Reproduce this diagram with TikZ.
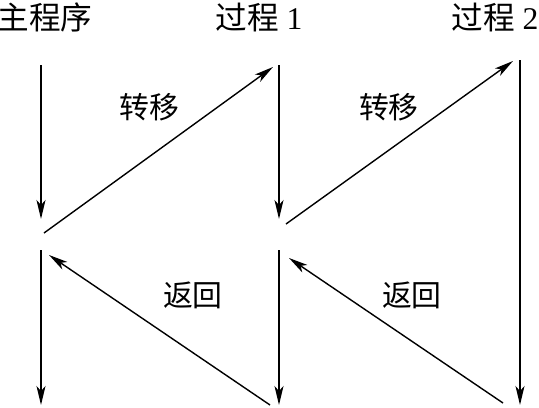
\documentclass[tikz,border=0pt]{standalone}
\usepackage{fontspec}
\setmainfont{Liberation Serif}
\newfontfamily\cjk{Noto Sans CJK SC}
\usetikzlibrary{arrows.meta}

\begin{document}
\begin{tikzpicture}[
    x=0.02cm, y=-0.02cm,
    title/.style={inner sep=0pt, font=\fontsize{18}{21}\selectfont},
    tag/.style={inner sep=0pt, font=\fontsize{17}{20}\selectfont},
    arr/.style={-{Stealth[length=0.38cm, width=0.18cm, inset=0.1cm]}, line width=0.8pt}
  ]
    \useasboundingbox (0,0) rectangle (539,407);

    % column headings
    \node[title] (main)  at (45,17)  {\cjk 主程序};
    \node[title] (proc1) at (259,17) {{\cjk 过程} 1};
    \node[title] (proc2) at (495,17) {{\cjk 过程} 2};

    % end points of the flow lines
    \coordinate (m1) at (41,65);
    \coordinate (m2) at (41,219);
    \coordinate (m3) at (41,250);
    \coordinate (m4) at (41,405);
    \coordinate (a1) at (279,65);
    \coordinate (a2) at (279,219);
    \coordinate (a3) at (279,250);
    \coordinate (a4) at (279,405);
    \coordinate (b1) at (520,60);
    \coordinate (b4) at (520,405);

    \coordinate (t1s) at (44,233);
    \coordinate (t1e) at (273,67);
    \coordinate (t2s) at (286,224);
    \coordinate (t2e) at (513,61);
    \coordinate (r1s) at (270,405);
    \coordinate (r1e) at (49,255);
    \coordinate (r2s) at (503,403);
    \coordinate (r2e) at (289,258);

    \draw[arr] (m1) -- (m2);
    \draw[arr] (m3) -- (m4);
    \draw[arr] (a1) -- (a2);
    \draw[arr] (a3) -- (a4);
    \draw[arr] (b1) -- (b4);

    \draw[arr] (t1s) -- (t1e);
    \draw[arr] (t2s) -- (t2e);
    \draw[arr] (r1s) -- (r1e);
    \draw[arr] (r2s) -- (r2e);

    % labels
    \node[tag] (go1)   at (149,107) {\cjk 转移};
    \node[tag] (go2)   at (389,107) {\cjk 转移};
    \node[tag] (back1) at (193,295) {\cjk 返回};
    \node[tag] (back2) at (412,295) {\cjk 返回};
  \end{tikzpicture}
\end{document}
